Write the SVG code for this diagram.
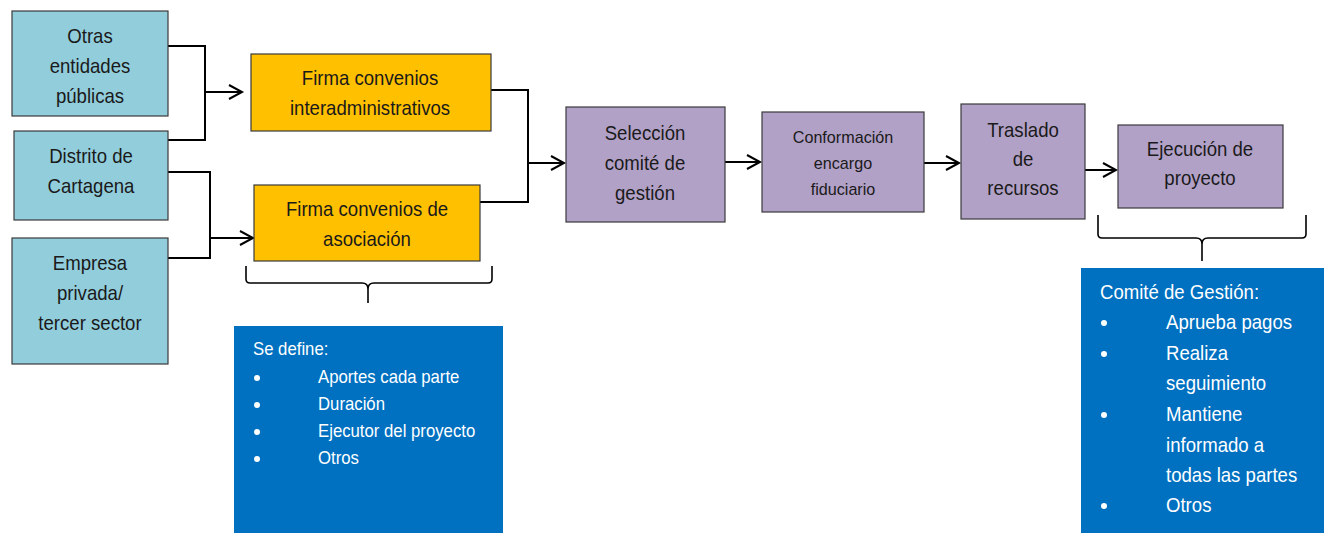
<svg xmlns="http://www.w3.org/2000/svg" width="1324" height="533" viewBox="0 0 1324 533">
  <defs>
    <marker id="arr" markerUnits="userSpaceOnUse" markerWidth="20" markerHeight="20" viewBox="-14 -10 20 20" refX="0" refY="0" orient="auto">
      <path d="M-13,-7 L0,0 L-13,7" fill="none" stroke="#000" stroke-width="2"/>
    </marker>
    <style>
      .t { font-family: "Liberation Sans", Arial, sans-serif; fill: #1a1a1a; text-anchor: middle; }
      .n1 { fill: #92CDDC; stroke: #3a3a3a; stroke-width: 1.2; }
      .n2 { fill: #FFC000; stroke: #3a3a3a; stroke-width: 1.2; }
      .n3 { fill: #B2A1C7; stroke: #3a3a3a; stroke-width: 1.2; }
      .f20 { font-size: 20px; }
      .f17 { font-size: 17px; }
      .c { fill: none; stroke: #000; stroke-width: 2; }
      .br { fill: none; stroke: #000; stroke-width: 1.6; }
      .note { fill: #0070C0; }
      .w { font-family: "Liberation Sans", Arial, sans-serif; fill: #fff; }
    </style>
  </defs>
  <rect width="1324" height="533" fill="#fff"/>

  <g id="connectors">
    <path class="c" d="M168,46 H205 V140 H168"/>
    <path class="c" d="M205,92 H242" marker-end="url(#arr)"/>
    <path class="c" d="M168,172 H210 V258 H168"/>
    <path class="c" d="M210,238 H253" marker-end="url(#arr)"/>
    <path class="c" d="M491,90 H528 V202 H480"/>
    <path class="c" d="M528,163 H564" marker-end="url(#arr)"/>
    <path class="c" d="M725,162 H760" marker-end="url(#arr)"/>
    <path class="c" d="M924,163 H959" marker-end="url(#arr)"/>
    <path class="c" d="M1085,170 H1116" marker-end="url(#arr)"/>
  </g>

  <g id="otras">
    <rect class="n1" x="12" y="11" width="156" height="105"/>
    <text class="t f20" transform="translate(90 0) scale(0.93 1)"><tspan x="0" y="43">Otras</tspan><tspan x="0" y="73">entidades</tspan><tspan x="0" y="103">públicas</tspan></text>
  </g>
  <g id="distrito">
    <rect class="n1" x="14" y="131" width="154" height="89"/>
    <text class="t f20" transform="translate(91 0) scale(0.93 1)"><tspan x="0" y="163">Distrito de</tspan><tspan x="0" y="193">Cartagena</tspan></text>
  </g>
  <g id="empresa">
    <rect class="n1" x="12" y="238" width="156" height="126"/>
    <text class="t f20" transform="translate(90 0) scale(0.93 1)"><tspan x="0" y="270">Empresa</tspan><tspan x="0" y="300">privada/</tspan><tspan x="0" y="330">tercer sector</tspan></text>
  </g>
  <g id="firma-inter">
    <rect class="n2" x="251" y="54" width="240" height="77"/>
    <text class="t f20" transform="translate(370 0) scale(0.93 1)"><tspan x="0" y="85">Firma convenios</tspan><tspan x="0" y="115">interadministrativos</tspan></text>
  </g>
  <g id="firma-asoc">
    <rect class="n2" x="254" y="185" width="226" height="76"/>
    <text class="t f20" transform="translate(367 0) scale(0.93 1)"><tspan x="0" y="216">Firma convenios de</tspan><tspan x="0" y="246">asociación</tspan></text>
  </g>
  <g id="seleccion">
    <rect class="n3" x="566" y="107" width="159" height="115"/>
    <text class="t f20" transform="translate(645 0) scale(0.93 1)"><tspan x="0" y="140">Selección</tspan><tspan x="0" y="170">comité de</tspan><tspan x="0" y="200">gestión</tspan></text>
  </g>
  <g id="conformacion">
    <rect class="n3" x="762" y="112" width="162" height="100"/>
    <text class="t f17" transform="translate(843 0) scale(0.95 1)"><tspan x="0" y="143">Conformación</tspan><tspan x="0" y="169">encargo</tspan><tspan x="0" y="195">fiduciario</tspan></text>
  </g>
  <g id="traslado">
    <rect class="n3" x="961" y="104" width="124" height="115"/>
    <text class="t f20" transform="translate(1023 0) scale(0.93 1)"><tspan x="0" y="137">Traslado</tspan><tspan x="0" y="166">de</tspan><tspan x="0" y="195">recursos</tspan></text>
  </g>
  <g id="ejecucion">
    <rect class="n3" x="1118" y="125" width="165" height="83"/>
    <text class="t f20" transform="translate(1200 0) scale(0.93 1)"><tspan x="0" y="156">Ejecución de</tspan><tspan x="0" y="185">proyecto</tspan></text>
  </g>

  <g id="brace-asoc">
    <path class="br" d="M246,266 V279 Q246,283 250,283 H362 Q368,283 368,289 V303 M368,289 Q368,283 374,283 H488 Q492,283 492,279 V266"/>
  </g>
  <g id="brace-ejec">
    <path class="br" d="M1098,215 V234 Q1098,238 1102,238 H1196 Q1202,238 1202,244 V261 M1202,244 Q1202,238 1208,238 H1302 Q1306,238 1306,234 V215"/>
  </g>

  <g id="nota-se-define">
    <rect class="note" x="234" y="326" width="269" height="207"/>
    <text class="w" font-size="18" transform="translate(253 0) scale(0.93 1)"><tspan x="0" y="355">Se define:</tspan></text>
    <g fill="#fff">
      <circle cx="257" cy="378" r="3"/>
      <circle cx="257" cy="405" r="3"/>
      <circle cx="257" cy="432" r="3"/>
      <circle cx="257" cy="459" r="3"/>
    </g>
    <text class="w" font-size="18" transform="translate(318 0) scale(0.93 1)"><tspan x="0" y="383">Aportes cada parte</tspan><tspan x="0" y="410">Duración</tspan><tspan x="0" y="437">Ejecutor del proyecto</tspan><tspan x="0" y="464">Otros</tspan></text>
  </g>

  <g id="nota-comite">
    <rect class="note" x="1081" y="268" width="243" height="265"/>
    <text class="w" font-size="20" transform="translate(1100 0) scale(0.93 1)"><tspan x="0" y="299">Comité de Gestión:</tspan></text>
    <g fill="#fff">
      <circle cx="1104" cy="323" r="3"/>
      <circle cx="1104" cy="354" r="3"/>
      <circle cx="1104" cy="415" r="3"/>
      <circle cx="1104" cy="506" r="3"/>
    </g>
    <text class="w" font-size="20" transform="translate(1166 0) scale(0.93 1)"><tspan x="0" y="329">Aprueba pagos</tspan><tspan x="0" y="360">Realiza</tspan><tspan x="0" y="390">seguimiento</tspan><tspan x="0" y="421">Mantiene</tspan><tspan x="0" y="452">informado a</tspan><tspan x="0" y="482">todas las partes</tspan><tspan x="0" y="512">Otros</tspan></text>
  </g>
</svg>
